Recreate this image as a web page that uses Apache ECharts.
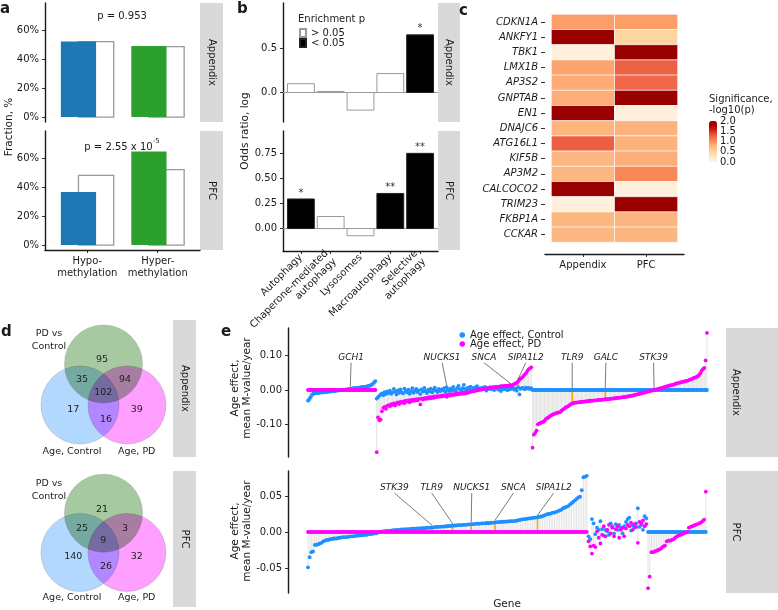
<!DOCTYPE html>
<html>
<head>
<meta charset="utf-8">
<script src="https://cdn.jsdelivr.net/npm/echarts@6/dist/echarts.min.js"></script>
<style>
html,body{margin:0;padding:0;background:#fff;}
#chart{width:778px;height:610px;}
#chart canvas[data-zr-dom-id="zr_1"],#chart canvas[data-zr-dom-id="zr_2"],#chart canvas[data-zr-dom-id="zr_3"]{mix-blend-mode:multiply;}
</style>
</head>
<body>
<div id="chart"></div>
<script>
// ================= DATA =================
const facetNames = ['Appendix', 'PFC'];

// Panel a
const methCategories = ['Hypo-\nmethylation', 'Hyper-\nmethylation'];
const fracAppendixDMP = [0.52, 0.49];
const fracAppendixBackground = [0.52, 0.485];
const fracPFCDMP = [0.365, 0.645];
const fracPFCBackground = [0.48, 0.52];
const pValueAppendix = '0.953';
const pValuePFCMantissa = '2.55';
const pValuePFCExponent = '-5';

// Panel b
const pathwayCategories = ['Autophagy', 'Chaperone-mediated\nautophagy', 'Lysosomes', 'Macroautophagy', 'Selective\nautophagy'];
const oddsAppendix = [0.10, 0.012, -0.20, 0.215, 0.655];
const starsAppendix = ['', '', '', '', '*'];
const oddsPFC = [0.295, 0.12, -0.072, 0.35, 0.75];
const starsPFC = ['*', '', '', '**', '**'];
const enrichmentLevels = ['> 0.05', '< 0.05'];

// Panel c
const heatGenes = ['CDKN1A','ANKFY1','TBK1','LMX1B','AP3S2','GNPTAB','EN1','DNAJC6','ATG16L1','KIF5B','AP3M2','CALCOCO2','TRIM23','FKBP1A','CCKAR'];
const heatAppendix = [0.91, 2.0, 0.04, 0.87, 0.84, 0.82, 2.0, 0.79, 1.28, 0.77, 0.77, 2.0, 0.04, 0.77, 0.77];
const heatPFC      = [0.91, 0.49, 2.0, 1.27, 1.24, 2.0, 0.06, 0.80, 0.80, 0.82, 1.03, 0.04, 2.0, 0.78, 0.78];
const heatTicks = [0, 0.5, 1, 1.5, 2];

// Panel d (regions: PDvsCtrl only, Ctrl&PDvsCtrl, PD&PDvsCtrl, all three, Ctrl only, PD only, Ctrl&PD)
const vennSetNames = ['PD vs\nControl', 'Age, Control', 'Age, PD'];
const vennAppendix = [95, 35, 94, 102, 17, 39, 16];
const vennPFC = [21, 25, 3, 9, 140, 32, 26];

// Panel e - Appendix
const appCtrlOnlyCtrl = [-0.031,-0.027,-0.021,-0.014,-0.011,-0.010,-0.009,-0.009,-0.008,-0.008,
 -0.007,-0.007,-0.007,-0.006,-0.006,-0.005,-0.005,-0.004,-0.004,-0.003,
 -0.003,-0.002,-0.002,-0.001,-0.001,0.000,0.000,0.001,0.001,0.002,
 0.002,0.003,0.004,0.004,0.005,0.005,0.006,0.006,0.007,0.007,
 0.008,0.008,0.009,0.009,0.010,0.011,0.012,0.013,0.015,0.018,
 0.022,0.026];
const appBothCtrl = [-0.025,-0.021,-0.017,-0.013,-0.010,-0.015,-0.006,-0.012,-0.004,-0.009,
 -0.002,-0.011,-0.007,0.003,-0.005,-0.013,-0.001,-0.008,0.002,-0.006,
 -0.010,0.004,-0.003,-0.007,0.001,-0.011,-0.004,0.005,-0.008,-0.002,
 0.003,-0.006,-0.001,-0.012,0.002,-0.005,0.006,-0.003,-0.009,0.001,
 -0.004,0.004,-0.007,0.000,0.007,-0.002,-0.006,0.003,-0.004,0.002,
 -0.001,0.005,-0.005,0.008,0.001,-0.003,0.004,-0.002,0.009,0.000,
 -0.004,0.006,0.012,0.002,-0.001,0.005,0.015,0.003,-0.002,0.007,
 0.004,0.010,-0.001,0.006,0.002,0.008,0.011,0.003,0.005,0.001,
 0.007,0.004,0.009,-0.002,0.005,0.003,0.008,0.002,0.006,0.000,
 0.004,0.007,0.001,0.005,-0.003,0.006,0.002,0.008,0.003,-0.001,
 0.005,0.002,0.005,0.007,0.001,0.004,-0.002,0.008,-0.013,0.003,
 0.006,0.005,0.002,0.007,0.004,0.006,0.003,0.005];
const appBothPD = [-0.181,-0.080,-0.088,-0.086,-0.062,-0.052,-0.049,-0.055,-0.046,-0.044,
 -0.047,-0.041,-0.043,-0.039,-0.045,-0.038,-0.036,-0.041,-0.035,-0.037,
 -0.033,-0.038,-0.031,-0.034,-0.030,-0.036,-0.029,-0.032,-0.028,-0.031,
 -0.027,-0.030,-0.026,-0.042,-0.025,-0.028,-0.024,-0.026,-0.022,-0.025,
 -0.021,-0.024,-0.020,-0.023,-0.019,-0.021,-0.018,-0.020,-0.017,-0.019,
 -0.016,-0.018,-0.015,-0.020,-0.014,-0.016,-0.013,-0.015,-0.012,-0.014,
 -0.011,-0.013,-0.010,-0.012,-0.009,-0.011,-0.008,-0.010,-0.007,-0.008,
 -0.006,-0.005,-0.004,-0.004,-0.003,-0.002,-0.001,0.000,0.001,0.002,
 0.002,0.003,0.004,0.004,0.005,0.006,0.006,0.007,0.008,0.008,
 0.009,0.009,0.010,0.010,0.011,0.011,0.011,0.012,0.012,0.012,
 0.013,0.013,0.011,0.015,0.017,0.019,0.021,0.025,0.030,0.033,
 0.036,0.040,0.045,0.049,0.055,0.060,0.063,0.066];
const appPDOnlyPD = [-0.168,-0.130,-0.125,-0.118,-0.100,-0.098,-0.096,-0.094,-0.093,-0.090,
 -0.085,-0.082,-0.080,-0.077,-0.074,-0.072,-0.070,-0.069,-0.067,-0.066,
 -0.065,-0.064,-0.060,-0.057,-0.054,-0.051,-0.049,-0.047,-0.044,-0.041,
 -0.039,-0.038,-0.037,-0.037,-0.036,-0.036,-0.035,-0.035,-0.034,-0.034,
 -0.033,-0.033,-0.032,-0.032,-0.031,-0.031,-0.031,-0.030,-0.030,-0.030,
 -0.029,-0.029,-0.029,-0.028,-0.028,-0.027,-0.027,-0.027,-0.026,-0.026,
 -0.025,-0.025,-0.024,-0.024,-0.023,-0.023,-0.022,-0.022,-0.021,-0.021,
 -0.020,-0.020,-0.019,-0.018,-0.017,-0.017,-0.016,-0.015,-0.014,-0.013,
 -0.012,-0.011,-0.010,-0.009,-0.008,-0.007,-0.006,-0.005,-0.004,-0.003,
 -0.002,-0.001,0.000,0.001,0.002,0.003,0.004,0.005,0.006,0.007,
 0.009,0.010,0.011,0.012,0.013,0.014,0.015,0.016,0.018,0.019,
 0.020,0.021,0.022,0.023,0.024,0.025,0.026,0.027,0.028,0.030,
 0.031,0.033,0.035,0.036,0.038,0.040,0.043,0.049,0.056,0.061,
 0.064,0.086,0.166];
const appLabeledGenes = ['GCH1','NUCKS1','SNCA','SIPA1L2','TLR9','GALC','STK39'];
const appLabeledRank = [33, 106, 155, 160, 201, 226, 263];

// Panel e - PFC
const pfcCtrlOnlyCtrl = [-0.049,-0.035,-0.028,-0.027,-0.018,-0.018,-0.017,-0.016,-0.015,-0.013,
 -0.012,-0.011,-0.011,-0.010,-0.010,-0.009,-0.009,-0.009,-0.008,-0.008,
 -0.0075,-0.007,-0.007,-0.007,-0.0065,-0.006,-0.006,-0.006,-0.0055,-0.005,
 -0.005,-0.0045,-0.0045,-0.004,-0.004,-0.0035,-0.003,-0.003,-0.0025,-0.002,
 -0.002,-0.001,0.000,0.0005,0.001,0.001,0.0015,0.0015,0.002,0.002,
 0.0025,0.0025,0.003,0.003,0.003,0.0035,0.0035,0.0035,0.004,0.004,
 0.004,0.0045,0.0045,0.0045,0.005,0.005,0.005,0.0055,0.0055,0.0055,
 0.006,0.006,0.006,0.0065,0.0065,0.007,0.007,0.007,0.0075,0.0075,
 0.0075,0.008,0.008,0.0085,0.0085,0.009,0.009,0.009,0.0095,0.0095,
 0.0095,0.010,0.010,0.010,0.0105,0.0105,0.011,0.011,0.011,0.0115,
 0.0115,0.0115,0.012,0.012,0.012,0.0125,0.0125,0.0125,0.013,0.013,
 0.0134,0.0136,0.0138,0.014,0.014,0.0142,0.0144,0.0146,0.0148,0.015,
 0.015,0.0152,0.0155,0.016,0.0165,0.017,0.0175,0.018,0.018,0.0185,
 0.019,0.019,0.0195,0.020,0.020,0.0205,0.021,0.0215,0.022,0.023,
 0.024,0.025,0.025,0.026,0.027,0.027,0.028,0.029,0.030,0.031,
 0.033,0.034,0.035,0.036,0.038,0.040,0.042,0.044,0.046,0.048,
 0.049,0.058,0.076,0.077,0.078];
const pfcBothCtrl = [-0.006,-0.010,0.018,0.012,-0.003,0.006,0.003,0.015,0.004,-0.005,
 0.003,0.001,-0.004,0.012,0.008,-0.002,0.011,0.003,0.010,0.006,
 -0.002,0.008,0.014,0.018,0.020,0.002,0.009,0.006,0.012,0.033,
 0.007,0.010,0.003,0.022,0.019];
const pfcBothPD = [-0.013,-0.020,-0.030,-0.019,-0.021,0.001,-0.008,-0.016,-0.004,0.008,
 -0.006,0.003,0.010,-0.002,0.006,-0.006,0.004,0.008,-0.008,0.003,
 0.006,-0.006,0.005,0.010,0.008,0.013,0.003,0.011,0.007,-0.015,
 0.014,0.012,0.016,0.008,0.011];
const pfcPDOnlyPD = [-0.078,-0.062,-0.028,-0.028,-0.027,-0.026,-0.025,-0.024,-0.022,-0.020,
 -0.019,-0.013,-0.012,-0.012,-0.011,-0.010,-0.008,-0.006,-0.005,-0.004,
 -0.003,-0.002,-0.001,0.000,0.006,0.007,0.008,0.009,0.010,0.011,
 0.012,0.013,0.015,0.017,0.056];
const pfcLabeledGenes = ['STK39','TLR9','NUCKS1','SNCA','SIPA1L2'];
const pfcLabeledRank = [74, 86, 97, 111, 136];
const seriesNames = ['Age effect, Control', 'Age effect, PD'];

// ================= LAYOUT / STYLE =================
const FONT = '"DejaVu Sans", sans-serif';
const INK = '#1a1a1a';
const appLabelLayout = [[33.6,0.094],[102.5,0.094],[134.2,0.094],[165.8,0.094],[201,0.094],[226.5,0.094],[262.6,0.094]];
const pfcLabelLayout = [[51.8,0.061],[73.8,0.061],[97.3,0.061],[121.8,0.061],[145.5,0.061]];
const vennCircleLayout = [[73.5,44],[50,85],[97,85]]; // green, blue, pink
const vennCircleColors = ['#a7c9a1','#b3d8ff','#ff9fff'];
const vennRegionLayout = [[72,40],[52,60],[95,60],[73.3,72.7],[43.3,89.3],[106.7,89.3],[76,99.3]];
const vennNameLayout = [[19,20],[42,131.7],[106.7,131.7]];

function zeros(n){ return new Array(n).fill(0); }

function valueAxis(gi, min, max, o) {
  o = o || {};
  const ax = {
    type: 'value', gridIndex: gi, min: min, max: max, scale: false,
    splitLine: {show: false}, splitArea: {show: false},
    axisLine: {show: !!o.line, onZero: false, lineStyle: {color: INK, width: 1.4}},
    axisTick: {show: !!o.ticks, length: o.tickLen || 3, inside: false, lineStyle: {color: INK, width: 0.9}},
    axisLabel: {show: !!o.ticks && o.labels !== false, color: INK, fontSize: o.fontSize || 10, fontFamily: FONT, margin: o.margin || 6}
  };
  if (o.ticks) { ax.axisTick.customValues = o.ticks; ax.axisLabel.customValues = o.ticks; }
  if (o.fmt) ax.axisLabel.formatter = o.fmt;
  if (o.labelExtra) Object.assign(ax.axisLabel, o.labelExtra);
  if (o.extra) Object.assign(ax, o.extra);
  return ax;
}

function rectShape(api, x0, x1, y0, y1) {
  const a = api.coord([x0, y0]), b = api.coord([x1, y1]);
  return {x: Math.min(a[0], b[0]), y: Math.min(a[1], b[1]), width: Math.abs(b[0] - a[0]), height: Math.abs(b[1] - a[1])};
}

function txt(x, y, text, o) {
  o = o || {};
  return {type: 'text', x: x, y: y, rotation: o.rot || 0, z: 10, silent: true,
    style: Object.assign({text: text, fill: INK, fontSize: o.size || 10, fontFamily: FONT,
      fontWeight: o.weight || 'normal', fontStyle: o.italic ? 'italic' : 'normal',
      align: o.align || 'center', textAlign: o.align || 'center',
      verticalAlign: o.valign || 'middle', textVerticalAlign: o.valign || 'middle',
      lineHeight: o.lh || undefined}, o.style || {})};
}
function strip(x, y, w, h, text, tx) {
  return [
    {type: 'rect', shape: {x: x, y: y, width: w, height: h}, style: {fill: '#d9d9d9'}, silent: true},
    txt(tx !== undefined ? tx : x + w / 2, y + h / 2, text, {rot: -Math.PI / 2})
  ];
}

// ---------- Panel a series ----------
function methSeries(gi, bg, dmp) {
  const bgData = bg.map((v, i) => [i + 1, v]);
  const dmpData = dmp.map((v, i) => [i + 1, v, i]);
  const colors = ['#1f77b4', '#2ca02c'];
  return [
    {type: 'custom', xAxisIndex: gi, yAxisIndex: gi, silent: true, data: bgData,
      renderItem: (p, api) => ({type: 'rect', shape: rectShape(api, api.value(0) - 0.125, api.value(0) + 0.375, 0, api.value(1)),
        style: {fill: '#fff', stroke: '#999', lineWidth: 1.3}})},
    {type: 'custom', xAxisIndex: gi, yAxisIndex: gi, silent: true, data: dmpData,
      renderItem: (p, api) => ({type: 'rect', shape: rectShape(api, api.value(0) - 0.375, api.value(0) + 0.125, 0, api.value(1)),
        style: {fill: colors[api.value(2)]}})}
  ];
}

// ---------- Panel b series ----------
function oddsSeries(gi, vals, stars) {
  const out = [{type: 'custom', xAxisIndex: gi, yAxisIndex: gi, silent: true, data: [[0]],
    renderItem: (p, api) => { const a = api.coord([0.4, 0]), b = api.coord([5.6, 0]);
      return {type: 'line', shape: {x1: a[0], y1: a[1], x2: b[0], y2: b[1]}, style: {stroke: '#9a9a9a', lineWidth: 1}}; }}];
  [false, true].forEach((wantSig, s) => {
    const data = [];
    vals.forEach((v, i) => { if ((stars[i] !== '') === wantSig) data.push([i + 1, v, i]); });
    out.push({type: 'custom', name: enrichmentLevels[s], xAxisIndex: gi, yAxisIndex: gi, silent: true, data: data,
      itemStyle: wantSig ? {color: '#000', borderColor: '#222', borderWidth: 1} : {color: '#fff', borderColor: '#9a9a9a', borderWidth: 1},
      renderItem: (p, api) => {
        const x = api.value(0), v = api.value(1), k = api.value(2);
        const sh = rectShape(api, x - 0.45, x + 0.45, 0, v);
        const ch = [{type: 'rect', shape: sh, style: {fill: wantSig ? '#000' : '#fff', stroke: wantSig ? '#222' : '#9a9a9a', lineWidth: 1}}];
        if (stars[k]) ch.push({type: 'text', x: sh.x + sh.width / 2, y: sh.y - 1,
          style: {text: stars[k], fill: '#333', fontSize: 10, fontFamily: FONT, align: 'center', verticalAlign: 'bottom'}});
        return {type: 'group', children: ch};
      }});
  });
  return out;
}

// ---------- Panel c series ----------
const heatData = [];
heatGenes.forEach((g, r) => { heatData.push([1, r + 1, heatAppendix[r]]); heatData.push([2, r + 1, heatPFC[r]]); });

// ---------- Panel d series ----------
function vennSeries(gi, counts) {
  const out = vennCircleLayout.map((c, i) => ({
    type: 'custom', xAxisIndex: gi, yAxisIndex: gi, silent: true, zlevel: 1 + i, data: [[c[0], c[1], i]],
    renderItem: (p, api) => { const cc = api.coord([api.value(0), api.value(1)]); const r = api.size([39, 0])[0];
      return {type: 'circle', shape: {cx: cc[0], cy: cc[1], r: r},
        style: {fill: vennCircleColors[api.value(2)], stroke: 'rgba(150,150,150,0.5)', lineWidth: 0.8}}; }
  }));
  out.push(
    {type: 'custom', xAxisIndex: gi, yAxisIndex: gi, silent: true, zlevel: 4, data: counts.map((n, i) => [vennRegionLayout[i][0], vennRegionLayout[i][1], n]),
      renderItem: (p, api) => { const c = api.coord([api.value(0), api.value(1)]);
        return {type: 'text', x: c[0], y: c[1], style: {text: String(api.value(2)), fill: '#222', fontSize: 9.5, fontFamily: FONT, align: 'center', verticalAlign: 'middle'}}; }},
    {type: 'custom', xAxisIndex: gi, yAxisIndex: gi, silent: true, zlevel: 4, data: vennNameLayout.map((c, i) => [c[0], c[1], i]),
      renderItem: (p, api) => { const c = api.coord([api.value(0), api.value(1)]);
        return {type: 'text', x: c[0], y: c[1], style: {text: vennSetNames[api.value(2)], fill: '#222', fontSize: 9.5, lineHeight: 13.4, fontFamily: FONT, align: 'center', verticalAlign: 'middle'}}; }}
  );
  return out;
}

// ---------- Panel e series ----------
function effectSeries(gi, ctrlOnly, bothCtrl, bothPD, pdOnly, genes, ranks, layout) {
  const ctrl = ctrlOnly.concat(bothCtrl, zeros(pdOnly.length));
  const pd = zeros(ctrlOnly.length).concat(bothPD, pdOnly);
  const seg = ctrl.map((c, i) => [i + 1, c, pd[i]]);
  const hl = ranks.map(k => [k, ctrl[k - 1], pd[k - 1]]);
  const lbl = ranks.map((k, j) => [layout[j][0], layout[j][1], k, Math.max(ctrl[k - 1], pd[k - 1]), j]);
  const lineRender = (color, w) => (p, api) => { const a = api.coord([api.value(0), api.value(1)]), b = api.coord([api.value(0), api.value(2)]);
    return {type: 'line', shape: {x1: a[0], y1: a[1], x2: b[0], y2: b[1]}, style: {stroke: color, lineWidth: w}}; };
  return [
    {type: 'custom', xAxisIndex: gi, yAxisIndex: gi, silent: true, data: seg, renderItem: lineRender('#d2d2d2', 0.6)},
    {type: 'custom', xAxisIndex: gi, yAxisIndex: gi, silent: true, data: hl, renderItem: lineRender('#ffa500', 1.6)},
    {type: 'scatter', name: seriesNames[0], xAxisIndex: gi, yAxisIndex: gi, silent: true, symbol: 'circle', symbolSize: 3.8,
      itemStyle: {color: '#1e90ff', opacity: 1}, data: ctrl.map((c, i) => [i + 1, c])},
    {type: 'scatter', name: seriesNames[1], xAxisIndex: gi, yAxisIndex: gi, silent: true, symbol: 'circle', symbolSize: 3.8,
      itemStyle: {color: '#ff00ff', opacity: 1}, data: pd.map((v, i) => [i + 1, v])},
    {type: 'custom', xAxisIndex: gi, yAxisIndex: gi, silent: true, z: 6, data: lbl,
      renderItem: (p, api) => { const l = api.coord([api.value(0), api.value(1)]), q = api.coord([api.value(2), api.value(3)]);
        return {type: 'group', children: [
          {type: 'line', shape: {x1: l[0], y1: l[1] + 5, x2: q[0], y2: q[1] - 2}, style: {stroke: '#222', lineWidth: 0.6}},
          {type: 'text', x: l[0], y: l[1], style: {text: genes[api.value(4)], fill: INK, fontSize: 9, fontStyle: 'italic', fontFamily: FONT, align: 'center', verticalAlign: 'middle'}}
        ]}; }}
  ];
}

// ---------- build option ----------
const pct = v => Math.round(v * 100) + '%';
const grids = [
  {left: 45, top: 3, width: 155, height: 119},      // 0 a top
  {left: 45, top: 131, width: 155, height: 119},    // 1 a bottom
  {left: 283, top: 3, width: 155, height: 119},     // 2 b top
  {left: 283, top: 131, width: 155, height: 120},   // 3 b bottom
  {left: 545, top: 12.8, width: 139, height: 241.2},// 4 c heat
  {left: 709, top: 121, width: 8, height: 41},      // 5 colorbar labels
  {left: 30, top: 320, width: 150, height: 145},    // 6 venn appendix
  {left: 30, top: 471, width: 150, height: 145},    // 7 venn pfc
  {left: 288, top: 328, width: 434, height: 129},   // 8 e top
  {left: 288, top: 471, width: 434, height: 122}    // 9 e bottom
].map(g => Object.assign({containLabel: false, show: false}, g));

const xAxes = [
  valueAxis(0, 0.4, 2.6),
  valueAxis(1, 0.4, 2.6, {line: true, ticks: [1, 2], fmt: v => methCategories[Math.round(v) - 1], margin: 5, labelExtra: {lineHeight: 12.5}}),
  valueAxis(2, 0.4, 5.6),
  valueAxis(3, 0.4, 5.6, {line: true, ticks: [1, 2, 3, 4, 5], fmt: v => pathwayCategories[Math.round(v) - 1], margin: 5, labelExtra: {rotate: 45, lineHeight: 11.5}}),
  valueAxis(4, 0.4, 2.6, {line: true, ticks: [1, 2], fmt: v => facetNames[Math.round(v) - 1], margin: 6}),
  valueAxis(5, 0, 1),
  valueAxis(6, 0, 150),
  valueAxis(7, 0, 150),
  valueAxis(8, -14.14, 314.4),
  valueAxis(9, -10.76, 244.5)
];
const yAxes = [
  valueAxis(0, -0.034, 0.786, {line: true, ticks: [0, 0.2, 0.4, 0.6], fmt: pct}),
  valueAxis(1, -0.034, 0.786, {line: true, ticks: [0, 0.2, 0.4, 0.6], fmt: pct}),
  valueAxis(2, -0.335, 1.017, {line: true, ticks: [0, 0.5], fmt: v => v.toFixed(1)}),
  valueAxis(3, -0.224, 0.973, {line: true, ticks: [0, 0.25, 0.5, 0.75], fmt: v => v.toFixed(2)}),
  valueAxis(4, 0.4, 16.27, {ticks: heatGenes.map((g, i) => i + 1), fmt: v => heatGenes[Math.round(v) - 1], tickLen: 4, margin: 7,
    labelExtra: {fontStyle: 'italic'}, extra: {inverse: true}}),
  valueAxis(5, 0, 2, {ticks: heatTicks, fmt: v => v.toFixed(1), margin: 3, extra: {position: 'right', axisTick: {show: false}}}),
  valueAxis(6, 0, 145, {extra: {inverse: true}}),
  valueAxis(7, 0, 145, {extra: {inverse: true}}),
  valueAxis(8, -0.195, 0.1804, {line: true, ticks: [-0.1, 0, 0.1], fmt: v => v.toFixed(2), margin: 6}),
  valueAxis(9, -0.0847, 0.0847, {line: true, ticks: [-0.05, 0, 0.05], fmt: v => v.toFixed(2), margin: 6})
];
yAxes[5].axisLabel.customValues = heatTicks;

const series = [].concat(
  methSeries(0, fracAppendixBackground, fracAppendixDMP),
  methSeries(1, fracPFCBackground, fracPFCDMP),
  oddsSeries(2, oddsAppendix, starsAppendix),
  oddsSeries(3, oddsPFC, starsPFC)
);
const heatIndex = series.length;
series.push({type: 'custom', xAxisIndex: 4, yAxisIndex: 4, silent: true, data: heatData,
  renderItem: (p, api) => ({type: 'rect', shape: rectShape(api, api.value(0) - 0.5, api.value(0) + 0.5, api.value(1) - 0.5, api.value(1) + 0.5),
    style: {fill: api.visual('color'), stroke: '#ffffff', lineWidth: 0.6}})});
series.push.apply(series, vennSeries(6, vennAppendix));
series.push.apply(series, vennSeries(7, vennPFC));
series.push.apply(series, effectSeries(8, appCtrlOnlyCtrl, appBothCtrl, appBothPD, appPDOnlyPD, appLabeledGenes, appLabeledRank, appLabelLayout));
series.push.apply(series, effectSeries(9, pfcCtrlOnlyCtrl, pfcBothCtrl, pfcBothPD, pfcPDOnlyPD, pfcLabeledGenes, pfcLabeledRank, pfcLabelLayout));

const legendBase = {orient: 'vertical', padding: 0, selectedMode: false, itemGap: 0, textStyle: {color: INK, fontSize: 10, fontFamily: FONT}};
const legends = [
  Object.assign({}, legendBase, {data: [enrichmentLevels[0]], left: 299, top: 28, itemWidth: 6, itemHeight: 8, icon: 'rect'}),
  Object.assign({}, legendBase, {data: [enrichmentLevels[1]], left: 299, top: 38, itemWidth: 6, itemHeight: 8, icon: 'rect'}),
  Object.assign({}, legendBase, {data: [seriesNames[0]], left: 459.5, top: 330, itemWidth: 5.5, itemHeight: 5.5, icon: 'circle'}),
  Object.assign({}, legendBase, {data: [seriesNames[1]], left: 459.5, top: 339, itemWidth: 5.5, itemHeight: 5.5, icon: 'circle'})
];

const graphics = [].concat(
  strip(200, 3, 23, 119, facetNames[0]), strip(200, 131, 23, 119, facetNames[1]),
  strip(438, 3, 22, 119, facetNames[0]), strip(438, 131, 22, 119, facetNames[1]),
  strip(173, 320, 23, 137, facetNames[0]), strip(173, 471, 23, 136, facetNames[1]),
  strip(726, 328, 52, 129, facetNames[0], 736), strip(726, 471, 52, 122, facetNames[1], 736),
  [
    txt(0, 9, 'a', {size: 15, weight: 'bold', align: 'left'}),
    txt(237, 9, 'b', {size: 15, weight: 'bold', align: 'left'}),
    txt(459, 11, 'c', {size: 15, weight: 'bold', align: 'left'}),
    txt(1, 332, 'd', {size: 15, weight: 'bold', align: 'left'}),
    txt(221, 332, 'e', {size: 15, weight: 'bold', align: 'left'}),
    txt(9, 127, 'Fraction, %', {rot: Math.PI / 2, size: 10.5}),
    txt(245, 131, 'Odds ratio, log', {rot: Math.PI / 2, size: 10.5}),
    txt(241, 388, 'Age effect,\nmean M-value/year', {rot: Math.PI / 2, size: 10.5, lh: 12}),
    txt(241, 531, 'Age effect,\nmean M-value/year', {rot: Math.PI / 2, size: 10.5, lh: 12}),
    txt(507, 604, 'Gene', {size: 10.5}),
    txt(122, 16, 'p = ' + pValueAppendix, {size: 10}),
    {type: 'text', x: 122, y: 145, z: 10, silent: true, style: {
      text: '{n|p = ' + pValuePFCMantissa + ' x 10}{s|' + pValuePFCExponent + '}',
      align: 'center', textAlign: 'center', verticalAlign: 'middle', textVerticalAlign: 'middle', fontFamily: FONT, fill: INK,
      rich: {n: {fontSize: 10, fontFamily: FONT, fill: INK, verticalAlign: 'bottom', lineHeight: 14}, s: {fontSize: 7, fontFamily: FONT, fill: INK, verticalAlign: 'top', lineHeight: 14, padding: [0, 0, 5, 0]}}}},
    txt(298, 19, 'Enrichment p', {size: 10, align: 'left'}),
    txt(709, 105, 'Significance,\n-log10(p)', {size: 10, align: 'left', lh: 11})
  ]
);

const option = {
  backgroundColor: '#ffffff',
  animation: false,
  textStyle: {fontFamily: FONT},
  grid: grids,
  xAxis: xAxes,
  yAxis: yAxes,
  legend: legends,
  visualMap: [{
    type: 'continuous', seriesIndex: heatIndex, dimension: 2, min: 0, max: 2,
    inRange: {color: ['#fff2e2', '#fee8c8', '#fdd49e', '#fdbb84', '#fc8d59', '#ef6548', '#d7301f', '#b30000', '#990000']},
    left: 709, top: 121, itemWidth: 8, itemHeight: 41, padding: 0, calculable: false, text: null, showLabel: false,
    hoverLink: false, realtime: false, textStyle: {fontSize: 0}
  }],
  graphic: {elements: graphics},
  series: series
};

const chart = echarts.init(document.getElementById('chart'), null, {renderer: 'canvas'});
chart.setOption(option);
</script>
</body>
</html>
